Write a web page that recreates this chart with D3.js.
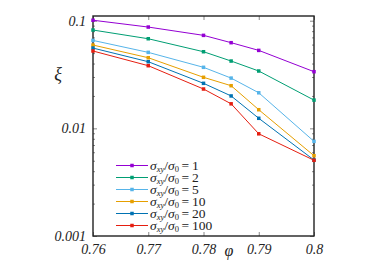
<!DOCTYPE html>
<html>
<head>
<meta charset="utf-8">
<script src="https://cdn.jsdelivr.net/npm/d3@7"></script>
<style>
  body { margin: 0; background: #fff; }
  text { font-family: "Liberation Serif", serif; }
</style>
</head>
<body>
<script>
var phi = [0.76, 0.77, 0.78, 0.785, 0.79, 0.8];
var ratios = ['1', '2', '5', '10', '20', '100'];
var colors = ['#9400d3', '#009e73', '#56b4e9', '#e69f00', '#0072b2', '#e51e10'];

var xi1 = [0.101, 0.0873, 0.0731, 0.0625, 0.0530, 0.0336];
var xi2 = [0.0819, 0.0680, 0.0515, 0.0422, 0.0341, 0.0183];
var xi5 = [0.0656, 0.0508, 0.0369, 0.0293, 0.0214, 0.00757];
var xi10 = [0.0594, 0.0453, 0.0298, 0.0249, 0.0149, 0.00557];
var xi20 = [0.0557, 0.0416, 0.0262, 0.0200, 0.0124, 0.00508];
var xi100 = [0.0523, 0.0382, 0.0232, 0.0169, 0.0089, 0.00505];
var series = [xi1, xi2, xi5, xi10, xi20, xi100];

var xTicks = [0.76, 0.77, 0.78, 0.79, 0.8];
var xTickLabels = ['0.76', '0.77', '0.78', '0.79', '0.8'];
var yTicks = [0.001, 0.01, 0.1];
var yTickLabels = ['0.001', '0.01', '0.1'];

var w = 374, h = 264;
var mLeft = 93, mRight = 314, mTop = 16, mBottom = 236;

var svg = d3.select('body').append('svg')
  .attr('width', w)
  .attr('height', h);

var x = d3.scaleLinear().domain([0.76, 0.8]).range([mLeft, mRight]);
var y = d3.scaleLog().domain([0.001, 0.1106]).range([mBottom, mTop]);

var minor = [];
[0.001, 0.01, 0.1].forEach(d => {
  for (var k = 2; k <= 9; k++) {
    if (d * k <= 0.1106) minor.push(d * k);
  }
});

var tickColor = '#888';

// minor ticks left and right
var gl = svg.append('g').attr('transform', 'translate(' + mLeft + ',0)')
  .call(d3.axisLeft(y).tickValues(minor).tickFormat('').tickSizeInner(-2).tickSizeOuter(0));
var gr = svg.append('g').attr('transform', 'translate(' + mRight + ',0)')
  .call(d3.axisRight(y).tickValues(minor).tickFormat('').tickSizeInner(-2).tickSizeOuter(0));

// major y ticks
var gy = svg.append('g').attr('transform', 'translate(' + mLeft + ',0)')
  .call(d3.axisLeft(y).tickValues(yTicks).tickFormat((d, i) => yTickLabels[i]).tickSizeInner(-4).tickSizeOuter(0).tickPadding(7));
var gy2 = svg.append('g').attr('transform', 'translate(' + mRight + ',0)')
  .call(d3.axisRight(y).tickValues(yTicks).tickFormat('').tickSizeInner(-4).tickSizeOuter(0));

// x ticks bottom and top
var gx = svg.append('g').attr('transform', 'translate(0,' + mBottom + ')')
  .call(d3.axisBottom(x).tickValues(xTicks).tickFormat((d, i) => xTickLabels[i]).tickSizeInner(-4).tickSizeOuter(0).tickPadding(8));
var gx2 = svg.append('g').attr('transform', 'translate(0,' + mTop + ')')
  .call(d3.axisTop(x).tickValues(xTicks).tickFormat('').tickSizeInner(-4).tickSizeOuter(0));

[gl, gr, gy, gy2, gx, gx2].forEach(g => {
  g.select('.domain').remove();
  g.selectAll('line').attr('stroke', tickColor).attr('stroke-width', 1);
  g.selectAll('text')
    .attr('font-family', '"Liberation Serif", serif')
    .attr('font-style', 'italic')
    .attr('font-size', 14)
    .attr('fill', '#222');
});

// frame
svg.append('rect')
  .attr('x', mLeft).attr('y', mTop)
  .attr('width', mRight - mLeft).attr('height', mBottom - mTop)
  .attr('fill', 'none')
  .attr('stroke', '#222')
  .attr('stroke-width', 1.4);

// lines
var line = d3.line()
  .x((d, i) => x(phi[i]))
  .y(d => y(d));

series.forEach((s, k) => {
  svg.append('path')
    .datum(s)
    .attr('d', line)
    .attr('fill', 'none')
    .attr('stroke', colors[k])
    .attr('stroke-width', 1);
  svg.selectAll('.pt' + k)
    .data(s)
    .enter()
    .append('rect')
    .attr('class', 'pt' + k)
    .attr('x', (d, i) => x(phi[i]) - 1.75)
    .attr('y', d => y(d) - 1.75)
    .attr('width', 3.5)
    .attr('height', 3.5)
    .attr('fill', colors[k]);
});

// axis labels
svg.append('text')
  .attr('x', 58).attr('y', 80)
  .attr('text-anchor', 'middle')
  .attr('font-style', 'italic')
  .attr('font-size', 18)
  .attr('fill', '#222')
  .text('ξ');

svg.append('text')
  .attr('x', 229).attr('y', 256)
  .attr('text-anchor', 'middle')
  .attr('font-style', 'italic')
  .attr('font-size', 16)
  .attr('fill', '#222')
  .text('φ');

// legend
var legendY = d3.scaleBand().domain(ratios).range([159.5, 231.5]);
var lg = svg.append('g');
ratios.forEach((r, k) => {
  var yy = legendY(r) + legendY.bandwidth() / 2;
  lg.append('line')
    .attr('x1', 116).attr('x2', 148)
    .attr('y1', yy).attr('y2', yy)
    .attr('stroke', colors[k])
    .attr('stroke-width', 1);
  lg.append('rect')
    .attr('x', 130.25).attr('y', yy - 1.75)
    .attr('width', 3.5).attr('height', 3.5)
    .attr('fill', colors[k]);
  var t = lg.append('text')
    .attr('x', 150).attr('y', yy + 4)
    .attr('font-size', 13.5)
    .attr('fill', '#222');
  t.append('tspan').attr('font-style', 'italic').text('σ');
  t.append('tspan').attr('font-style', 'italic').attr('font-size', 8.5).attr('dy', 2).text('xy');
  t.append('tspan').attr('dy', -2).text('/');
  t.append('tspan').attr('font-style', 'italic').text('σ');
  t.append('tspan').attr('font-size', 8.5).attr('dy', 2).text('0');
  t.append('tspan').attr('dy', -2).text('\u2009=\u2009' + r);
});
</script>
</body>
</html>
